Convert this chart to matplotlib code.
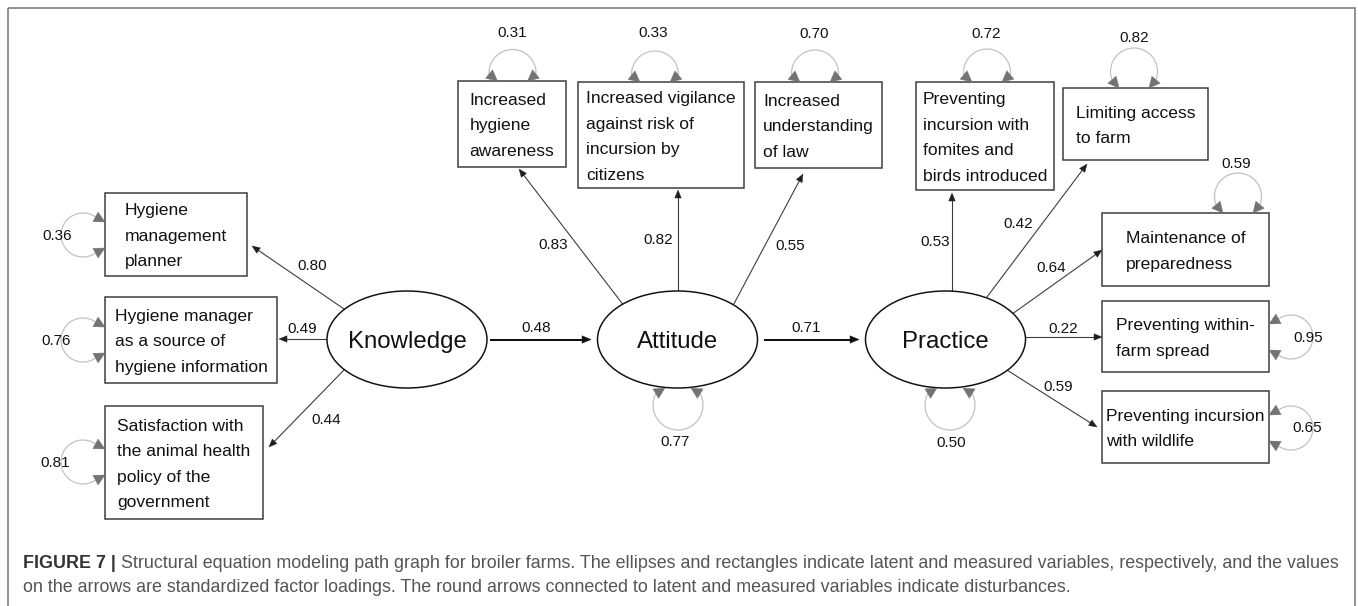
import numpy as np
import matplotlib
matplotlib.use("Agg")
import matplotlib.pyplot as plt
from matplotlib.patches import Ellipse, Rectangle, Polygon

# ------------------------------------------------------------------ data
latent_names = ["Knowledge", "Attitude", "Practice"]
structural_from = ["Knowledge", "Attitude"]
structural_to = ["Attitude", "Practice"]
structural_coefs = [0.48, 0.71]
latent_dist_names = ["Attitude", "Practice"]
latent_dist_values = [0.77, 0.50]

indicator_labels = [
    "Hygiene\nmanagement\nplanner",
    "Hygiene manager\nas a source of\nhygiene information",
    "Satisfaction with\nthe animal health\npolicy of the\ngovernment",
    "Increased\nhygiene\nawareness",
    "Increased vigilance\nagainst risk of\nincursion by\ncitizens",
    "Increased\nunderstanding\nof law",
    "Preventing\nincursion with\nfomites and\nbirds introduced",
    "Limiting access\nto farm",
    "Maintenance of\npreparedness",
    "Preventing within-\nfarm spread",
    "Preventing incursion\nwith wildlife",
]
indicator_factor = ["Knowledge"] * 3 + ["Attitude"] * 3 + ["Practice"] * 5
indicator_loadings = [0.80, 0.49, 0.44, 0.83, 0.82, 0.55, 0.53, 0.42, 0.64, 0.22, 0.59]
indicator_disturbances = [0.36, 0.76, 0.81, 0.31, 0.33, 0.70, 0.72, 0.82, 0.59, 0.95, 0.65]

caption_bold = "FIGURE 7 |"
caption_line1 = ("Structural equation modeling path graph for broiler farms. The ellipses and "
                 "rectangles indicate latent and measured variables, respectively, and the values")
caption_line2 = ("on the arrows are standardized factor loadings. The round arrows connected to "
                 "latent and measured variables indicate disturbances.")

# ------------------------------------------------------------------ layout (pixel units)
W, H, DPI = 1358, 606, 100
latent_pos = {"Knowledge": (407, 339.5), "Attitude": (677.5, 339.5), "Practice": (945.5, 339.5)}
ELL_W, ELL_H = 160, 97

boxes = [(105, 193, 247, 276), (105, 297, 277, 383), (105, 406, 263, 519),
         (458, 81, 566, 167), (578, 82, 744, 188), (755, 82, 882, 168),
         (916, 82, 1054, 190), (1063, 88, 1208, 160), (1102, 213, 1269, 286),
         (1102, 301, 1269, 372), (1102, 391, 1269, 463)]
arrow_tips = [(252, 246), (279, 339), (269, 447), (519, 169), (678, 190), (803, 174),
              (952, 193), (1087, 164), (1102, 250), (1102, 337), (1097, 427)]
arrow_aims = [(328, 298), (320, 339), (343, 371), (618, 298), (678, 300), (737, 298),
              (952, 300), (987, 297), (1015, 312), (1040, 337), (1010, 372)]
loading_label_pos = [(312, 265), (302, 328), (326, 419), (553, 244), (658, 239), (790, 245),
                     (935, 241), (1018, 223), (1051, 267), (1063, 328), (1058, 386)]
# loop: side, anchor coordinate along the edge, centre distance
loop_side = ["left"] * 3 + ["top"] * 6 + ["right"] * 2
loop_anchor = [235, 340, 462, 512.5, 655, 815, 987, 1134, 1238, 337, 428]
loop_dist = [22, 22, 22, 8, 7.5, 8.5, 9.5, 16.5, 16.5, 22, 22]
loop_radius = [22, 22, 22, 23.5, 23.5, 23.5, 23.5, 23.5, 23.5, 22, 22]
dist_label_pos = [(57, 235), (56, 340), (55, 462), (512, 32), (653, 32), (814, 33),
                  (986, 33), (1134, 37), (1236, 163), (1308, 337), (1307, 427)]
struct_x = [(491, 591), (765, 859)]
struct_y = 339.5
struct_label_pos = [(536, 327), (806, 327)]
latent_loop_x = {"Attitude": 678, "Practice": 950}
latent_loop_label = {"Attitude": (675, 441), "Practice": (951, 442)}

FONT = "Liberation Sans"
PT = 72.0 / DPI
FS_BOX = 17.5 * PT
FS_LAT = 24 * PT
FS_NUM = 15.2 * PT
FS_CAP = 17.85 * PT
LINE_PITCH = 25.5
TXT = "#111111"

fig = plt.figure(figsize=(W / DPI, H / DPI), dpi=DPI)
ax = fig.add_axes([0, 0, 1, 1])
ax.set_xlim(0, W)
ax.set_ylim(H, 0)
ax.axis("off")
renderer = fig.canvas.get_renderer()


def base(yc, fs_px):
    return yc + 0.36 * fs_px


def num(x, y, v):
    ax.text(x, base(y, FS_NUM / PT), f"{v:.2f}", fontsize=FS_NUM, family=FONT,
            ha="center", va="baseline", color=TXT, zorder=6)


def head(tip, frm, length, width, color, z=5):
    tip = np.asarray(tip, float)
    frm = np.asarray(frm, float)
    v = tip - frm
    v /= np.hypot(*v)
    n = np.array([-v[1], v[0]])
    b = tip - v * length
    ax.add_patch(Polygon([tip, b + n * width / 2, b - n * width / 2], closed=True,
                         facecolor=color, edgecolor=color, lw=0.3, zorder=z))


def ray_ellipse(T, aim, c):
    T = np.asarray(T, float)
    u = np.asarray(aim, float) - T
    u /= np.hypot(*u)
    a, b = ELL_W / 2, ELL_H / 2
    dx, dy = T[0] - c[0], T[1] - c[1]
    A = (u[0] / a) ** 2 + (u[1] / b) ** 2
    B = 2 * (dx * u[0] / a ** 2 + dy * u[1] / b ** 2)
    C = (dx / a) ** 2 + (dy / b) ** 2 - 1
    disc = max(B * B - 4 * A * C, 0)
    roots = [(-B - np.sqrt(disc)) / (2 * A), (-B + np.sqrt(disc)) / (2 * A)]
    t = min(r for r in roots if r > 0)
    return T + u * t


def loop(anchor, outward, d, r, lateral=13, L=11, hw=11):
    A = np.asarray(anchor, float)
    o = np.asarray(outward, float)
    p = np.array([-o[1], o[0]])
    c = A + o * d
    phis = np.radians(np.arange(0, 180.1, 0.5))
    ends = []
    for s in (1, -1):
        tip = A + s * p * lateral
        pts = [c + r * (np.cos(f) * o + s * np.sin(f) * p) for f in phis]
        ds = [np.hypot(*(q - tip)) for q in pts]
        idx = next((i for i, dd in enumerate(ds) if dd <= L), int(np.argmin(ds)))
        ends.append((phis[idx], pts[idx], tip))
    ang = np.linspace(-ends[1][0], ends[0][0], 200)
    arc = np.array([c + r * (np.cos(a) * o + np.sin(a) * p) for a in ang])
    ax.plot(arc[:, 0], arc[:, 1], color="#c4c4c4", lw=1.3 * PT, zorder=3,
            solid_capstyle="butt")
    for _, q, tip in ends:
        head(tip, q, np.hypot(*(tip - q)), hw, "#737373", z=4)


# frame
ax.add_patch(Rectangle((8, 8), 1347, 700, fill=False, edgecolor="#7a7a7a",
                       lw=1.6 * PT, zorder=1))

# latent ellipses
for name in latent_names:
    cx, cy = latent_pos[name]
    ax.add_patch(Ellipse((cx, cy), ELL_W, ELL_H, facecolor="white", edgecolor="#111111",
                         lw=1.5 * PT, zorder=4))
    ax.text(cx, base(cy, 24), name, fontsize=FS_LAT, family=FONT, ha="center",
            va="baseline", color=TXT, zorder=6)

# measured boxes
for lab, (x0, y0, x1, y1) in zip(indicator_labels, boxes):
    ax.add_patch(Rectangle((x0, y0), x1 - x0, y1 - y0, facecolor="white",
                           edgecolor="#3a3a3a", lw=1.5 * PT, zorder=4))
    lines = lab.split("\n")
    widths = []
    for ln in lines:
        t = ax.text(0, 0, ln, fontsize=FS_BOX, family=FONT)
        widths.append(t.get_window_extent(renderer).width)
        t.remove()
    left = (x0 + x1) / 2 - max(widths) / 2
    yc0 = (y0 + y1) / 2 - LINE_PITCH * (len(lines) - 1) / 2
    for i, ln in enumerate(lines):
        ax.text(left, base(yc0 + i * LINE_PITCH, 17.5), ln, fontsize=FS_BOX, family=FONT,
                ha="left", va="baseline", color=TXT, zorder=6)

# factor loading arrows
for fac, tip, aim, lp, val in zip(indicator_factor, arrow_tips, arrow_aims,
                                  loading_label_pos, indicator_loadings):
    c = latent_pos[fac]
    s = ray_ellipse(tip, aim, c)
    tipa = np.asarray(tip, float)
    v = tipa - s
    v /= np.hypot(*v)
    e = tipa - v * 6
    ax.plot([s[0], e[0]], [s[1], e[1]], color="#3c3c3c", lw=1.1 * PT, zorder=3)
    head(tipa, s, 8, 6.5, "#1f1f1f")
    num(lp[0], lp[1], val)

# structural paths
for (xa, xb), lp, val in zip(struct_x, struct_label_pos, structural_coefs):
    ax.plot([xa, xb - 7], [struct_y, struct_y], color="#111111", lw=2.0 * PT, zorder=3)
    head((xb, struct_y), (xa, struct_y), 9, 7.5, "#111111")
    num(lp[0], lp[1], val)

# disturbance loops of measured variables
for (x0, y0, x1, y1), side, anc, d, r, lp, val in zip(boxes, loop_side, loop_anchor,
                                                     loop_dist, loop_radius,
                                                     dist_label_pos, indicator_disturbances):
    if side == "left":
        loop((x0, anc), (-1, 0), d, r)
    elif side == "right":
        loop((x1, anc), (1, 0), d, r)
    else:
        loop((anc, y0), (0, -1), d, r, lateral=15)
    num(lp[0], lp[1], val)

# latent disturbance loops
for name, val in zip(latent_dist_names, latent_dist_values):
    lx = latent_loop_x[name]
    cy = latent_pos[name][1] + ELL_H / 2
    loop((lx, cy), (0, 1), 17, 25, lateral=13)
    lp = latent_loop_label[name]
    num(lp[0], lp[1], val)

# caption
cy1, cy2 = 562, 586
tb = ax.text(23, base(cy1, 18), caption_bold, fontsize=FS_CAP, family=FONT,
             weight="bold", color="#333333", ha="left", va="baseline")
bb = tb.get_window_extent(renderer)
ax.text(bb.x1 + 5, base(cy1, 18), caption_line1, fontsize=FS_CAP, family=FONT,
        color="#555555", ha="left", va="baseline")
ax.text(23, base(cy2, 18), caption_line2, fontsize=FS_CAP, family=FONT,
        color="#555555", ha="left", va="baseline")

fig.savefig("out.png", dpi=DPI)
